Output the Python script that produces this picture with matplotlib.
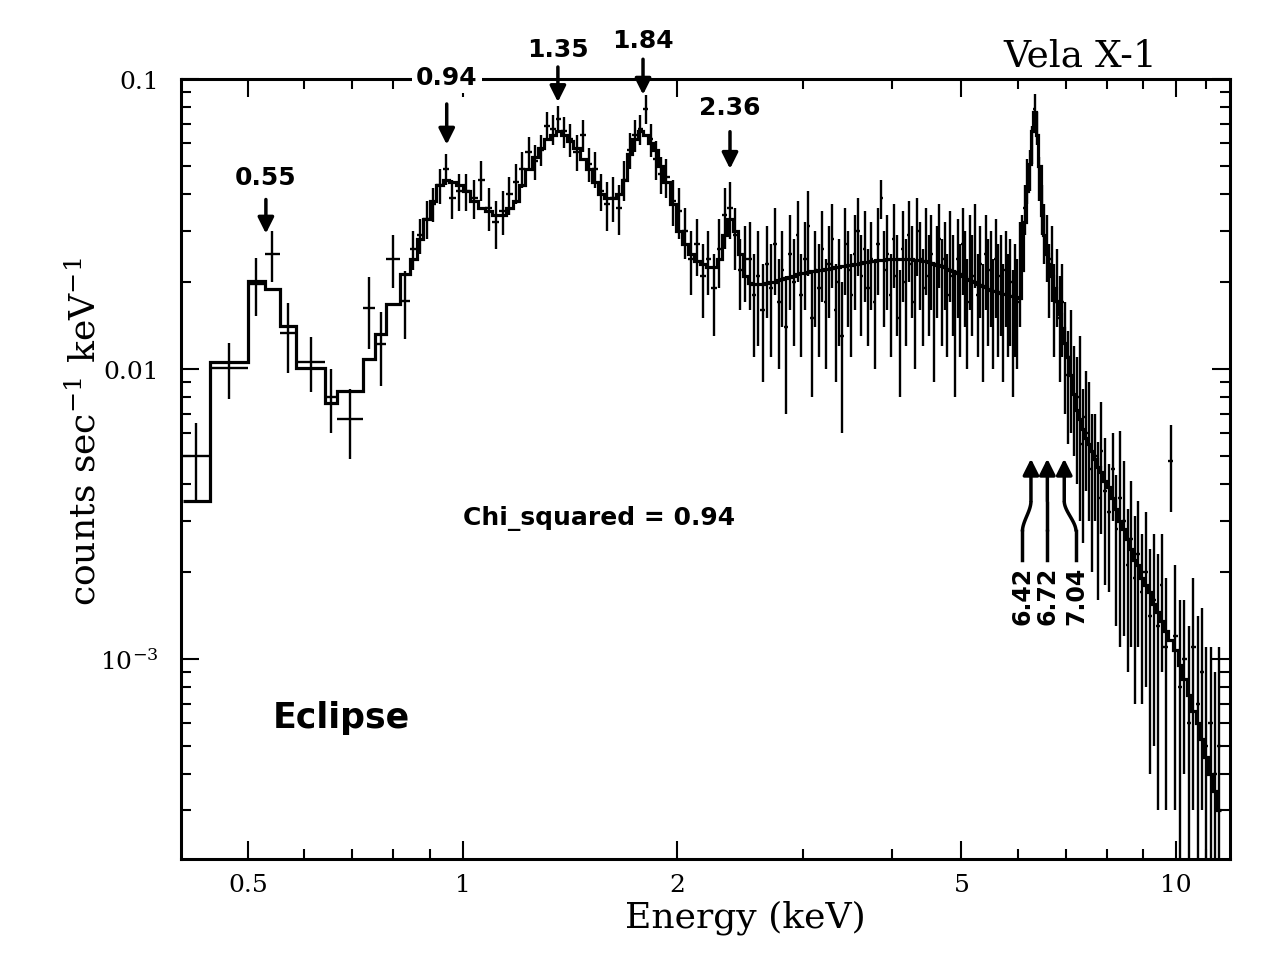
import numpy as np
import matplotlib
matplotlib.use("Agg")
import matplotlib.pyplot as plt
from matplotlib.ticker import FixedLocator, NullFormatter

plt.rcParams['mathtext.fontset'] = 'dejavuserif'
SERIF = 'DejaVu Serif'
SANS = 'DejaVu Sans'

# channel edges (keV)
edges = [
    0.405, 0.442, 0.500, 0.528, 0.554, 0.585, 0.641, 0.666, 0.724, 0.753, 0.782, 0.816, 0.843,
    0.862, 0.881, 0.900, 0.919, 0.938, 0.957, 0.978, 1.000,
    1.025, 1.050, 1.075, 1.100, 1.125, 1.150, 1.175, 1.200, 1.225, 1.250, 1.275, 1.300,
    1.325, 1.350, 1.375, 1.400, 1.430, 1.460, 1.490, 1.520, 1.550, 1.580, 1.610, 1.640,
    1.670, 1.700, 1.730, 1.760, 1.790, 1.820, 1.850, 1.880, 1.910, 1.950, 1.990, 2.030,
    2.070, 2.110, 2.150, 2.190, 2.230, 2.270, 2.310, 2.350, 2.390, 2.430, 2.470, 2.510,
    2.545, 2.580, 2.615, 2.650, 2.685, 2.720, 2.755, 2.790, 2.825, 2.860, 2.895, 2.930,
    2.965, 3.000, 3.035, 3.070, 3.105, 3.140, 3.175, 3.210, 3.245, 3.280, 3.315, 3.350,
    3.385, 3.420, 3.455, 3.490, 3.525, 3.560,
    3.600, 3.640, 3.680, 3.720, 3.760, 3.800, 3.840, 3.880, 3.920, 3.960, 4.000, 4.040,
    4.080, 4.120, 4.160, 4.200, 4.240, 4.280, 4.320, 4.360, 4.400, 4.440, 4.480, 4.520,
    4.560, 4.600, 4.640, 4.680, 4.720, 4.760, 4.800, 4.840, 4.880, 4.920, 4.960, 5.000,
    5.040, 5.080, 5.120, 5.160,
    5.205, 5.250, 5.295, 5.340, 5.385, 5.430, 5.475, 5.520, 5.565, 5.610, 5.655, 5.700,
    5.745, 5.790, 5.835, 5.880, 5.925, 5.970, 6.015, 6.060,
    6.11, 6.16, 6.21, 6.26, 6.31, 6.36, 6.41, 6.46, 6.51, 6.56, 6.61, 6.66, 6.72, 6.78,
    6.84, 6.90, 6.96, 7.02, 7.08, 7.15, 7.22, 7.29, 7.36, 7.43, 7.50, 7.58, 7.66, 7.74,
    7.82, 7.90, 8.00, 8.10, 8.20, 8.30, 8.40, 8.50, 8.60, 8.70, 8.80, 8.90, 9.00, 9.12,
    9.24, 9.36, 9.48, 9.60, 9.75, 9.90, 10.05, 10.20, 10.35, 10.50, 10.65, 10.80, 10.95,
    11.10, 11.25, 11.40, 11.55,
]

# counts/s/keV per channel
rate = [
    0.0050, 0.0101, 0.0197, 0.0250, 0.0133, 0.0106, 0.0080, 0.0067, 0.0162, 0.0122, 0.0240, 0.0172,
    0.026, 0.029, 0.033, 0.037, 0.043, 0.049, 0.039, 0.041,
    0.041, 0.039, 0.045, 0.036, 0.032, 0.035, 0.040, 0.044, 0.049, 0.056, 0.052, 0.057,
    0.069, 0.067, 0.073, 0.066, 0.062, 0.056, 0.064, 0.051, 0.049, 0.041, 0.037, 0.039,
    0.036, 0.045, 0.057, 0.064, 0.067, 0.079, 0.062, 0.053, 0.047, 0.046, 0.038, 0.035,
    0.030, 0.024, 0.027, 0.021, 0.024, 0.019, 0.026, 0.034, 0.036, 0.029, 0.022, 0.024,
    0.024, 0.018, 0.021, 0.016, 0.023, 0.019, 0.027, 0.017, 0.022, 0.014,
    0.025, 0.020, 0.029, 0.018, 0.024, 0.031, 0.015, 0.022, 0.019, 0.026,
    0.017, 0.023, 0.028, 0.016, 0.020, 0.013, 0.027, 0.022, 0.018, 0.025,
    0.030, 0.021, 0.026, 0.019, 0.024, 0.017, 0.027, 0.039, 0.022, 0.025,
    0.018, 0.028, 0.021, 0.015, 0.026, 0.020, 0.029, 0.023, 0.017, 0.030,
    0.024, 0.019, 0.027, 0.021, 0.025, 0.016, 0.023, 0.028, 0.020, 0.024,
    0.018, 0.026, 0.021, 0.015, 0.024, 0.019, 0.027, 0.022, 0.017, 0.025,
    0.021, 0.028, 0.018, 0.023, 0.016, 0.025, 0.020, 0.022, 0.017, 0.024,
    0.019, 0.021, 0.016, 0.022, 0.018, 0.020, 0.015, 0.019, 0.017, 0.023,
    0.028, 0.036, 0.045, 0.049, 0.060, 0.079, 0.068, 0.046, 0.036, 0.030,
    0.027, 0.021, 0.024, 0.017, 0.020, 0.015, 0.017, 0.012, 0.0095, 0.011,
    0.0085, 0.0075, 0.0080, 0.0055, 0.0068, 0.0060, 0.0045, 0.0050, 0.0036, 0.0052,
    0.0038, 0.0032, 0.0045, 0.0028, 0.0036, 0.0030, 0.0021, 0.0026, 0.0019, 0.0023,
    0.0017, 0.0020, 0.0014, 0.0016, 0.0013, 0.0018, 0.0011, 0.0048, 0.0012, 0.0008,
    0.0010, 0.0006, 0.0011, 0.0007, 0.0009, 0.0005, 0.0006, 0.0004, 0.0005,
]

rate_err = [
    0.0015, 0.0022, 0.0045, 0.0050, 0.0036, 0.0023, 0.0020, 0.0018, 0.0045, 0.0035, 0.0050, 0.0045,
    0.004, 0.004, 0.005, 0.005, 0.006, 0.006, 0.006, 0.006,
    0.006, 0.006, 0.007, 0.006, 0.006, 0.006, 0.006, 0.007, 0.007, 0.007, 0.007, 0.007,
    0.008, 0.008, 0.008, 0.008, 0.008, 0.008, 0.008, 0.007, 0.007, 0.006, 0.007, 0.007,
    0.007, 0.007, 0.008, 0.008, 0.008, 0.009, 0.008, 0.008, 0.007, 0.007, 0.007, 0.007,
    0.006, 0.006, 0.006, 0.006, 0.006, 0.006, 0.007, 0.008, 0.008, 0.007, 0.006, 0.007,
    0.008, 0.007, 0.009, 0.007, 0.008, 0.008, 0.009, 0.007, 0.008, 0.007,
    0.009, 0.008, 0.009, 0.007, 0.008, 0.010, 0.007, 0.008, 0.008, 0.009,
    0.007, 0.008, 0.009, 0.007, 0.008, 0.007, 0.009, 0.008, 0.007, 0.009,
    0.009, 0.008, 0.009, 0.007, 0.008, 0.007, 0.009, 0.006, 0.008, 0.009,
    0.007, 0.009, 0.008, 0.007, 0.009, 0.008, 0.009, 0.008, 0.007, 0.009,
    0.008, 0.007, 0.009, 0.008, 0.009, 0.007, 0.008, 0.009, 0.008, 0.008,
    0.007, 0.009, 0.008, 0.007, 0.009, 0.008, 0.009, 0.008, 0.007, 0.009,
    0.008, 0.009, 0.007, 0.008, 0.007, 0.009, 0.008, 0.008, 0.007, 0.009,
    0.008, 0.008, 0.007, 0.008, 0.007, 0.008, 0.007, 0.008, 0.007, 0.009,
    0.006, 0.007, 0.008, 0.008, 0.009, 0.010, 0.009, 0.008, 0.007, 0.007,
    0.007, 0.006, 0.007, 0.006, 0.006, 0.006, 0.006, 0.005, 0.004, 0.005,
    0.0035, 0.0035, 0.005, 0.003, 0.003, 0.003, 0.0025, 0.002, 0.002, 0.0025,
    0.002, 0.0015, 0.0015, 0.0015, 0.0025, 0.0018, 0.0012, 0.0015, 0.0012, 0.0012,
    0.0010, 0.0012, 0.0010, 0.0011, 0.0010, 0.0009, 0.0008, 0.0016, 0.0009, 0.0008,
    0.0006, 0.0007, 0.0008, 0.0007, 0.0006, 0.0006, 0.0005, 0.0005, 0.0006,
]

# folded model, same channels
model = [
    0.0035, 0.0106, 0.0201, 0.0188, 0.0141, 0.0101, 0.0076, 0.0084, 0.0108, 0.0132, 0.0167, 0.0212,
    0.024, 0.028, 0.033, 0.038, 0.043, 0.045, 0.044, 0.043,
    0.041, 0.038, 0.036, 0.035, 0.034, 0.034, 0.036, 0.038, 0.043, 0.049, 0.054, 0.058,
    0.062, 0.064, 0.066, 0.064, 0.061, 0.058, 0.053, 0.049, 0.044, 0.040, 0.039, 0.039,
    0.040, 0.045, 0.055, 0.062, 0.066, 0.064, 0.060, 0.057, 0.050, 0.044, 0.037, 0.030,
    0.027, 0.025, 0.0235, 0.023, 0.0225, 0.0225, 0.024, 0.029, 0.033, 0.030, 0.025, 0.021,
    0.0198, 0.0197, 0.0197, 0.0197, 0.0198, 0.0199, 0.0200, 0.0202, 0.0204, 0.0206,
    0.0208, 0.0210, 0.0212, 0.0214, 0.0215, 0.0216, 0.0217, 0.0218, 0.0219, 0.0220,
    0.0221, 0.0222, 0.0223, 0.0224, 0.0225, 0.0226, 0.0227, 0.0228, 0.0229, 0.0230,
    0.0231, 0.0232, 0.0233, 0.0234, 0.0235, 0.0236, 0.0237, 0.0238, 0.0238, 0.0239,
    0.0239, 0.0240, 0.0240, 0.0240, 0.0240, 0.0240, 0.0239, 0.0239, 0.0238, 0.0238,
    0.0237, 0.0236, 0.0235, 0.0234, 0.0232, 0.0231, 0.0229, 0.0228, 0.0226, 0.0224,
    0.0222, 0.0220, 0.0218, 0.0216, 0.0214, 0.0212, 0.0210, 0.0207, 0.0205, 0.0203,
    0.0201, 0.0199, 0.0197, 0.0195, 0.0193, 0.0191, 0.0189, 0.0187, 0.0186, 0.0185,
    0.0184, 0.0183, 0.0182, 0.0181, 0.0180, 0.0179, 0.0178, 0.0177, 0.0177, 0.0176,
    0.022, 0.032, 0.041, 0.051, 0.066, 0.077, 0.064, 0.050, 0.034, 0.029,
    0.025, 0.023, 0.021, 0.019, 0.0172, 0.0155, 0.0138, 0.0123, 0.0110, 0.0095,
    0.0082, 0.0072, 0.0067, 0.0062, 0.0058, 0.0055, 0.0052, 0.0049, 0.0046, 0.0044,
    0.0041, 0.0039, 0.0036, 0.0033, 0.0030, 0.0028, 0.0026, 0.0024, 0.0022, 0.0021,
    0.0019, 0.0018, 0.0017, 0.00155, 0.00145, 0.00135, 0.00125, 0.00116, 0.00107, 0.00095,
    0.00085, 0.00075, 0.00066, 0.00060, 0.00053, 0.00046, 0.00040, 0.00035, 0.00030,
]

# emission line marks (label, arrow energy, tail, tip, label height)
line_labels = ["0.55", "0.94", "1.35", "1.84", "2.36"]
line_pos = [0.53, 0.95, 1.36, 1.79, 2.37]
line_tail = [0.0384, 0.082, 0.110, 0.117, 0.0658]
line_tip = [0.0293, 0.0594, 0.0833, 0.0883, 0.049]
line_text_y = [0.046, 0.1016, 0.127, 0.136, 0.080]

fe_labels = ["6.42", "6.72", "7.04"]
fe_head = [6.26, 6.60, 6.97]
fe_foot = [6.09, 6.60, 7.24]

edges = np.array(edges)
lo, hi = edges[:-1], edges[1:]
cen = np.sqrt(lo * hi)

fig = plt.figure(figsize=(12.76, 9.70), dpi=100)
ax = fig.add_axes([181 / 1276, 1 - 860 / 970, 1049 / 1276, 780 / 970])
ax.set_xscale('log')
ax.set_yscale('log')

ax.stairs(model, edges, baseline=None, color='k', lw=2.3, zorder=3)
ax.errorbar(cen, rate, xerr=[cen - lo, hi - cen], yerr=rate_err, fmt='none',
            ecolor='k', elinewidth=1.7, capsize=0, zorder=2)

ax.set_xlim(0.403, 11.9)
ax.set_ylim(2.04e-4, 0.1)

ax.xaxis.set_major_locator(FixedLocator([0.5, 1, 2, 5, 10]))
ax.xaxis.set_minor_locator(FixedLocator([0.6, 0.7, 0.8, 0.9, 3, 4, 6, 7, 8, 9, 11]))
ax.set_xticklabels(['0.5', '1', '2', '5', '10'])
ax.xaxis.set_minor_formatter(NullFormatter())
ax.yaxis.set_major_locator(FixedLocator([1e-3, 1e-2, 1e-1]))
ax.set_yticklabels(['10$^{-3}$', '0.01', '0.1'])
ymin = [m * d for d in (1e-4, 1e-3, 1e-2) for m in range(2, 10)]
ax.yaxis.set_minor_locator(FixedLocator(ymin))
ax.yaxis.set_minor_formatter(NullFormatter())

ax.tick_params(which='both', direction='in', top=True, right=True, width=1.5)
ax.tick_params(which='major', length=13)
ax.tick_params(which='minor', length=7)
ax.tick_params(axis='x', which='major', pad=10)
ax.tick_params(axis='y', which='major', pad=16)
for t in ax.get_xticklabels() + ax.get_yticklabels():
    t.set_fontfamily(SERIF)
    t.set_fontsize(18)
for s in ax.spines.values():
    s.set_linewidth(2.2)

ax.set_xlabel('Energy (keV)', fontsize=26, family=SERIF)
ax.xaxis.set_label_coords(0.538, -0.052)
ax.set_ylabel('counts sec$^{-1}$ keV$^{-1}$', fontsize=26, family=SERIF)
ax.yaxis.set_label_coords(-0.075, 0.549)

ax.text(0.857, 1.03, 'Vela X-1', transform=ax.transAxes, ha='center', va='center',
        fontsize=27, family=SERIF)

arrow_kw = dict(arrowstyle='-|>', color='k', lw=2.5, mutation_scale=24,
                shrinkA=0, shrinkB=0)
for lab, ex, ya, yb, yt in zip(line_labels, line_pos, line_tail, line_tip, line_text_y):
    ax.annotate('', xy=(ex, yb), xytext=(ex, ya), arrowprops=arrow_kw,
                annotation_clip=False, zorder=5)
    box = dict(fc='white', ec='none', pad=3) if lab == '0.94' else None
    ax.text(ex, yt, lab, ha='center', va='center', fontsize=18, fontweight='bold',
            family=SANS, bbox=box, clip_on=False, zorder=6)

# iron line markers, curved leaders below the spectrum
t = np.linspace(0, 1, 30)
s = 3 * t ** 2 - 2 * t ** 3
for lab, xh, xf in zip(fe_labels, fe_head, fe_foot):
    lx = np.log10(xf) + (np.log10(xh) - np.log10(xf)) * s
    ly = np.log10(0.00275) + (np.log10(0.0035) - np.log10(0.00275)) * t
    ax.plot(10 ** lx, 10 ** ly, color='k', lw=2.5, solid_capstyle='butt')
    ax.plot([xf, xf], [0.0022, 0.00275], color='k', lw=2.5)
    ax.annotate('', xy=(xh, 0.0049), xytext=(xh, 0.0035), arrowprops=arrow_kw)
    ax.text(xf, 0.0021, lab, rotation=90, ha='center', va='top', fontsize=17,
            fontweight='bold', family=SANS)

ax.text(1.555, 0.00308, 'Chi_squared = 0.94', ha='center', va='center', fontsize=18,
        fontweight='bold', family=SANS)
ax.text(0.677, 6.3e-4, 'Eclipse', ha='center', va='center', fontsize=25,
        fontweight='bold', family=SANS)

fig.savefig('out.png', dpi=100)
